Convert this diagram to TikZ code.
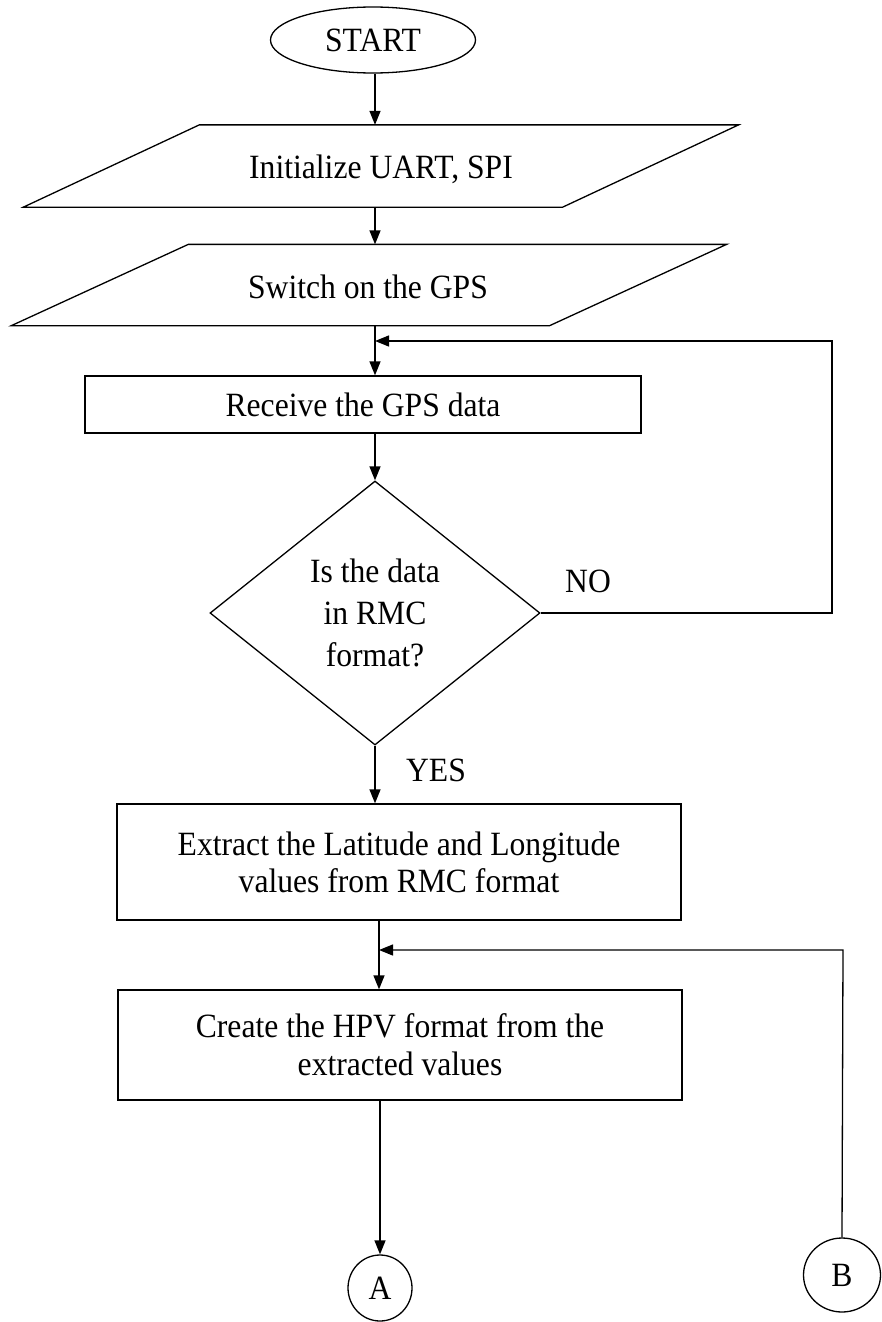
\documentclass[tikz,border=0pt]{standalone}
\usepackage{fontspec}
\setmainfont{Liberation Serif}[FakeStretch=0.93]
\usetikzlibrary{arrows.meta,shapes.geometric}

\begin{document}
\begin{tikzpicture}[x=1pt,y=-1pt,line width=1.3pt,
  txt/.style={font=\fontsize{34}{38}\selectfont},
  flow/.style={-{Triangle[length=14pt,width=11pt]}},
  term/.style={txt,draw,ellipse,inner sep=0pt},
  proc/.style={txt,draw,rectangle,inner sep=0pt,align=center},
  iobox/.style={txt,rectangle,inner sep=0pt},
  decide/.style={draw,diamond,inner sep=0pt,align=center,
    font=\fontsize{34}{42}\selectfont},
  lbl/.style={txt,inner sep=0pt}]
\useasboundingbox (0,0) rectangle (882,1322);

% column of the main flow
\coordinate (col) at (375,0);

% terminal
\node[term,minimum width=205,minimum height=66] (start) at (373,40) {START};

% input/output steps: parallelograms drawn around invisible boxes
\node[iobox,minimum width=538,minimum height=81] (init) at (381,166) {};
\draw ([xshift=88pt]init.north west) -- ([xshift=88pt]init.north east)
  -- ([xshift=-88pt]init.south east) -- ([xshift=-88pt]init.south west) -- cycle;
\node[lbl] (initText) at (381,169) {Initialize UART, SPI};

\node[iobox,minimum width=537,minimum height=80] (gps) at (369,285) {};
\draw ([xshift=88.5pt]gps.north west) -- ([xshift=88.5pt]gps.north east)
  -- ([xshift=-88.5pt]gps.south east) -- ([xshift=-88.5pt]gps.south west) -- cycle;
\node[lbl] (gpsText) at (368,287) {Switch on the GPS};

% processing steps
\node[proc,minimum width=556,minimum height=57] (recv) at (363,404.5) {Receive the GPS data};

\node[decide,minimum width=330,minimum height=264] (rmc) at (375,613)
  {Is the data\\in RMC\\format?};

\node[proc,minimum width=564,minimum height=116,font=\fontsize{34}{37}\selectfont]
  (extract) at (399,862) {Extract the Latitude and Longitude\\values from RMC format};

\node[proc,minimum width=564,minimum height=110,font=\fontsize{34}{38}\selectfont]
  (create) at (400,1045) {Create the HPV format from the\\extracted values};

% off-page connectors
\node[term,minimum width=64,minimum height=66] (conA) at (380,1288) {A};
\node[term,minimum width=77,minimum height=74] (conB) at (842,1275) {B};

% branch labels
\node[lbl] (no) at (588,581) {NO};
\node[lbl] (yes) at (436,770) {YES};

% junction points of the loops
\coordinate (loopR) at (832,341);
\coordinate (j1) at (375,341);
\coordinate (loopB) at (843,950);
\coordinate (j2) at (379,950);

% main flow
\draw[flow] (start.south -| col) -- (init.north -| col);
\draw[flow] (init.south -| col) -- (gps.north -| col);
\draw[flow] (gps.south -| col) -- (recv.north -| col);
\draw[flow] (recv.south -| col) -- (rmc.north);
\draw[flow] (rmc.south) -- (extract.north -| rmc.south);
\draw[flow] (extract.south -| j2) -- (create.north -| j2);
\draw[flow] (create.south -| conA) -- (conA.north);

% NO branch back to reception
\draw[flow] (rmc.east) -| (loopR) -- (j1);
% return from connector B
\draw[flow] (conB.north) -- (loopB) -- (j2);
\end{tikzpicture}
\end{document}
